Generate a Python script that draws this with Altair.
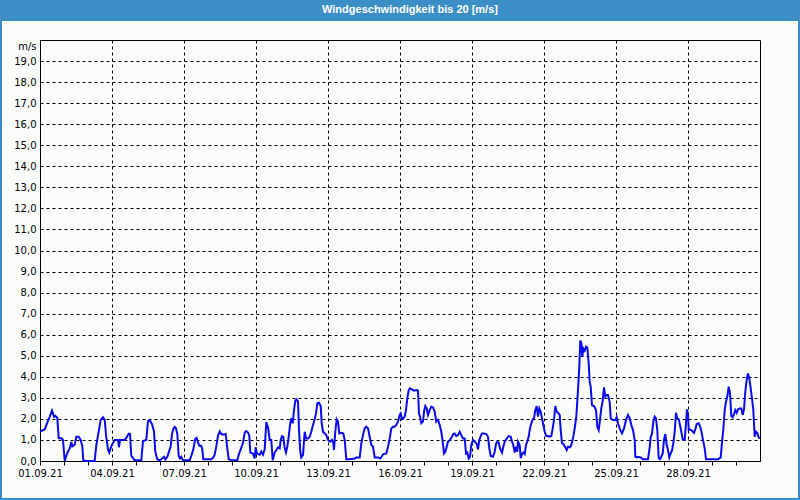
import altair as alt
import pandas as pd

# ---- data (hours since 01.09.21 00:00, wind speed m/s) ----
hours = [
    0, 4.7, 7.3, 9.7, 12, 13, 14, 15.3, 17.3, 18.7, 21.3, 23, 24.7, 26.3, 28, 29.7, 31.3, 32.3, 34.7,
    36.3, 38.7, 40.7, 42.3, 43.3, 46.3, 54.7, 56.3, 58.7, 60.7, 63, 64.7, 66.3, 68, 69.3, 71.3, 73,
    74.7, 78, 79, 80, 84.7, 86.3, 88.7, 90, 91.3, 94.7, 101.3, 103, 106.3, 108, 109.7, 112, 114, 115.3,
    117.3, 119.7,
    121.3, 124, 125.3, 127.3, 128.7, 130.7, 132, 133.3, 134.7, 136, 137.3, 138.7, 140, 141.3, 143,
    149.7, 151.3, 153.3, 155.3, 156.7, 158, 159.3, 161.3, 162.3, 163.3, 171.3, 173, 174.7, 176.3, 178,
    179.7, 181.3, 183.3, 185.7, 187, 188.7, 192, 197.3, 198.7, 200.7, 203, 204.7, 206.3, 208, 209.3,
    210.3, 213, 214.7, 215.7, 217, 219.7, 221.3, 223, 224.7, 226.3, 228, 229.7, 231.3, 232.7, 234.7,
    236.7,
    238, 239.7, 240.7, 242, 243.3, 244.7, 246, 247.3, 248.7, 250, 251.3, 252.7, 254, 255.3, 256.7, 258,
    259, 260.3, 261.3, 263, 264.7, 266, 268, 269.7, 271.3, 273, 274.7, 276, 277.3, 279, 280.7, 281.7,
    283, 284.7, 286.3, 288, 290, 292, 293.3, 294, 295.3, 296.7, 298, 299.3, 301.3, 303.3, 304.7, 306.3,
    309.7, 314.7, 316.3, 319.7, 321.3, 323, 324.7, 326.3, 328, 329.7, 331.3, 333, 334.7, 338, 340.3,
    342, 343.3, 346.3, 348, 349.7, 351.3, 353, 354.7, 356.3, 358,
    359.7, 360.7, 362, 363.3, 364.7, 366, 367.3, 368.7, 370, 372, 374, 376.3, 378, 379, 380, 381.3, 383,
    384, 385.3, 386.7, 388, 389.7, 391.3, 393, 394.7, 396.3, 398, 399.7, 401.3, 402.7, 404, 405.3,
    406.7, 408, 410, 412, 413.3, 414.7, 416.3, 418, 419.7, 421.3, 423, 424.7, 426, 427.3, 428.7, 430,
    431.3, 433, 434.7, 436.7, 438, 439.3, 440.7, 442, 444, 446.3, 448, 449.3, 450.7, 453, 454.7, 456,
    457.3, 458.7, 460, 462, 463.3, 464.7, 466.7, 468.7, 470.7, 472, 473.3, 474.7, 476, 477.3,
    478, 479.7, 480.7, 482, 483.3, 484.7, 486, 487.3, 488.7, 490, 491.3, 492.7, 494, 495.3, 496.7, 498,
    499.3, 500.7, 502, 503.3, 504.7, 506.3, 508, 509.7, 511.3, 512.7, 514, 515.3, 516.7, 518, 519.7,
    520.7, 522, 523.3, 525.3, 526.7, 528, 530, 531.3, 533, 534.7, 536.3, 538, 539.3, 540.3, 541.3,
    542.3, 543.3, 544.7, 546, 547.3, 548.7, 549.7, 550.7, 552, 554, 556, 557.3, 558.7, 560, 561.3,
    562.7, 564, 565.3, 566.7, 568, 569.7, 570.7, 572.7, 575.3, 576.7, 578, 580, 582, 584, 586, 588,
    589.7, 591.3, 593, 594.7, 595.3, 597.3,
    598, 600.7, 603, 608, 609.7, 610.7, 612, 613.3, 614.7, 616, 617.3, 618.7, 620, 621.3, 622.7, 624,
    625.3, 626.7, 628, 629.3, 630.7, 632, 633.3, 634.7, 636, 637.3, 638.7, 640, 641.3, 642.7, 644.7,
    646, 647, 648, 648.7, 650, 652, 654, 655.3, 656.7, 658.7, 660, 661.3, 663, 664.7, 666, 678, 680.7,
    682, 683.3, 684.7, 686, 687.3, 688.7, 690, 691.3, 692.7, 694, 695.3, 696.7, 698, 699.7, 701.3,
    702.7, 704, 705.3, 706.7, 708, 709.3, 710.7, 712, 713.3, 714.7, 716, 717.3, 718.7, 720,
]
speed_ms = [
    1.4, 1.5, 1.82, 2.1, 2.4, 2.25, 2.1, 2.15, 2.05, 1.08, 1.08, 1.0, 0.0, 0.25, 0.45, 0.6, 0.9, 0.7, 0.78,
    1.15, 1.15, 1.0, 0.7, 0.03, 0.0, 0.0, 0.75, 1.4, 1.95, 2.08, 1.95, 1.12, 0.55, 0.4, 0.7, 0.85,
    1.0, 1.0, 0.65, 1.0, 1.0, 1.1, 1.3, 1.28, 0.25, 0.03, 0.03, 0.95, 1.0, 1.9, 1.95, 1.75, 1.4, 0.45,
    0.08, 0.03,
    0.08, 0.2, 0.08, 0.2, 0.4, 0.7, 1.28, 1.52, 1.62, 1.56, 1.28, 0.25, 0.12, 0.2, 0.03,
    0.03, 0.25, 0.55, 1.05, 1.1, 0.88, 0.72, 0.72, 0.55, 0.08, 0.08, 0.15, 0.3, 0.7, 1.2,
    1.4, 1.28, 1.25, 1.28, 0.72, 0.08, 0.03, 0.03, 0.3, 0.55, 0.85, 1.35, 1.42, 1.35, 1.2,
    0.4, 0.35, 0.12, 0.65, 0.35, 0.3, 0.45, 0.3, 0.55, 1.85, 1.6, 1.0, 1.0, 0.03, 0.4,
    0.55,
    0.65, 0.6, 1.0, 1.18, 1.15, 0.6, 0.4, 0.68, 1.15, 1.71, 2.03, 1.79, 2.42, 2.86, 2.93, 2.82,
    1.47, 0.44, 0.17, 0.28, 1.39, 1.07, 1.07, 1.15, 1.39, 1.71, 1.98, 2.26, 2.74, 2.77, 2.61, 1.79,
    1.39, 1.31, 1.23, 1.0, 0.92, 1.0, 0.87, 0.52, 1.39, 1.98, 1.87, 1.31, 1.34, 1.31, 1.0, 0.08,
    0.08, 0.12, 0.17, 0.17, 0.84, 1.23, 1.55, 1.63, 1.55, 1.15, 0.76, 0.68, 0.17, 0.17, 0.12,
    0.24, 0.33, 0.36, 0.68, 1.07, 1.55, 1.63, 1.63, 1.71, 1.87,
    2.19, 2.26, 1.98, 2.03, 2.11, 2.42, 2.98, 3.37, 3.45, 3.4, 3.34, 3.37, 3.34, 2.26, 2.11, 1.79, 1.87,
    2.34, 2.61, 2.5, 2.19, 2.42, 2.58, 2.55, 2.34, 1.87, 1.95, 1.71, 1.39, 0.92, 0.36, 0.44,
    0.68, 0.92, 1.0, 1.15, 1.28, 1.31, 1.18, 1.23, 1.39, 1.23, 1.07, 1.07, 0.36, 0.4, 0.12, 0.2,
    0.76, 1.0, 0.92, 0.81, 0.55, 1.0, 1.18, 1.31, 1.31, 1.28, 1.15, 0.6, 0.24, 0.2, 0.44, 0.81,
    0.92, 0.87, 0.6, 0.4, 0.68, 0.92, 1.07, 1.18, 1.15, 0.92, 0.76, 0.4, 0.68, 0.44,
    0.92, 0.76, 0.13, 0.33, 0.4, 0.33, 0.76, 0.92, 1.16, 1.55, 1.79, 1.98, 2.03, 2.42, 2.61, 2.11,
    2.5, 2.34, 2.03, 1.71, 1.39, 1.19, 1.19, 1.16, 1.19, 1.55, 1.95, 2.61, 2.34, 2.29, 2.19,
    1.47, 0.84, 0.81, 0.65, 0.52, 0.68, 0.65, 0.76, 1.08, 1.55, 2.11, 3.37, 4.48, 5.72, 5.62,
    4.95, 5.35, 5.24, 5.43, 5.4, 4.64, 3.77, 3.53, 2.66, 2.61, 2.42, 1.63, 1.47, 1.95, 2.5,
    2.87, 3.5, 3.06, 3.14, 3.14, 2.8, 2.03, 1.95, 1.95, 2.08, 1.79, 1.5, 1.31, 1.55, 1.95, 2.19,
    2.03, 1.71, 1.47, 1.0, 0.2, 0.17,
    0.2, 0.17, 0.08, 0.08, 0.65, 1.15, 1.28, 1.87, 2.11, 2.03, 1.47, 0.13, 0.08, 0.2, 0.36, 1.0,
    1.28, 0.76, 0.52, 0.17, 0.36, 0.49, 0.84, 1.39, 2.29, 2.03, 1.98, 1.71, 1.39, 1.03, 1.0,
    1.79, 2.45, 2.19, 1.47, 1.5, 1.44, 1.34, 1.5, 1.76, 1.79, 1.66, 1.44, 1.0, 0.6, 0.08, 0.08, 0.17,
    0.87, 1.5, 2.42, 2.82, 3.06, 3.53, 3.25, 2.14, 2.08, 2.23, 2.42, 2.29, 2.45, 2.5, 2.5,
    2.19, 2.45, 3.29, 3.85, 4.16, 3.93, 3.45, 2.98, 2.42, 1.15, 1.39, 1.34, 1.12, 1.07,
]
y_ticks = list(range(0, 20))
day_ticks = list(range(1, 31))
title_text = "Windgeschwindigkeit bis 20 [m/s]"
unit_label = "m/s"

t0 = pd.Timestamp("2021-09-01")
df = pd.DataFrame({
    "time": (t0 + pd.to_timedelta(hours, unit="h")).strftime("%Y-%m-%dT%H:%M:%S"),
    "speed": speed_ms,
})

FONT = "DejaVu Sans"
BLUE_FRAME = "#3c8fc6"
third_day = "(date(datum.value) - 1) % 3 == 0"

x_axis = alt.Axis(
    values=[alt.DateTime(year=2021, month=9, date=d) for d in day_ticks],
    labelExpr=third_day + " ? timeFormat(datum.value, '%d.%m.%y') : ''",
    labelOverlap=False, labelFlush=False,
    grid=True, gridColor="black", gridDash=[3, 3], gridWidth=1,
    gridOpacity={"condition": {"test": third_day, "value": 1}, "value": 0},
    tickSize=4, tickColor="black", domainColor="black",
    labelFont=FONT, labelFontSize=10, labelColor="black", labelPadding=3,
    title=None,
)
y_axis = alt.Axis(
    values=y_ticks,
    labelExpr="replace(format(datum.value, '.1f'), '.', ',')",
    grid=True, gridColor="black", gridDash=[3, 3], gridWidth=1,
    ticks=False, domainColor="black",
    labelFont=FONT, labelFontSize=10, labelColor="black", labelPadding=4,
    title=unit_label, titleAngle=0, titleAlign="right", titleBaseline="middle",
    titleX=-4, titleY=6, titleFont=FONT, titleFontSize=10,
    titleFontWeight="normal", titleColor="black",
)

line = alt.Chart(df).mark_line(color="#0a0aeb", strokeWidth=2).encode(
    x=alt.X("time:T", axis=x_axis,
            scale=alt.Scale(domain=[alt.DateTime(year=2021, month=9, date=1),
                                    alt.DateTime(year=2021, month=10, date=1)], nice=False)),
    y=alt.Y("speed:Q", axis=y_axis, scale=alt.Scale(domain=[0, 20], nice=False)),
)

one = alt.Data(values=[{"k": 0}])
band = alt.Chart(one).mark_rect(color=BLUE_FRAME).encode(
    x=alt.value(-40), x2=alt.value(760), y=alt.value(-40), y2=alt.value(-19))
left_b = alt.Chart(one).mark_rect(color=BLUE_FRAME).encode(
    x=alt.value(-40), x2=alt.value(-38), y=alt.value(-19), y2=alt.value(460))
right_b = alt.Chart(one).mark_rect(color=BLUE_FRAME).encode(
    x=alt.value(758), x2=alt.value(760), y=alt.value(-19), y2=alt.value(460))
bottom_b = alt.Chart(one).mark_rect(color=BLUE_FRAME).encode(
    x=alt.value(-40), x2=alt.value(760), y=alt.value(458), y2=alt.value(460))
title = alt.Chart(one).mark_text(
    text=title_text, font="Liberation Sans", fontSize=11, fontWeight="bold",
    color="white", align="center", baseline="middle",
).encode(x=alt.value(370), y=alt.value(-30))

chart = alt.layer(line, band, left_b, right_b, bottom_b, title).properties(
    width=720, height=421,
    autosize=alt.AutoSizeParams(type="none"),
    padding={"left": 40, "top": 40, "right": 40, "bottom": 39},
    background="#fafcfa",
).configure_view(stroke="black", strokeWidth=1, fill="#fafcfa")

chart.save("out.html", embed_options={"renderer": "svg", "actions": False})
